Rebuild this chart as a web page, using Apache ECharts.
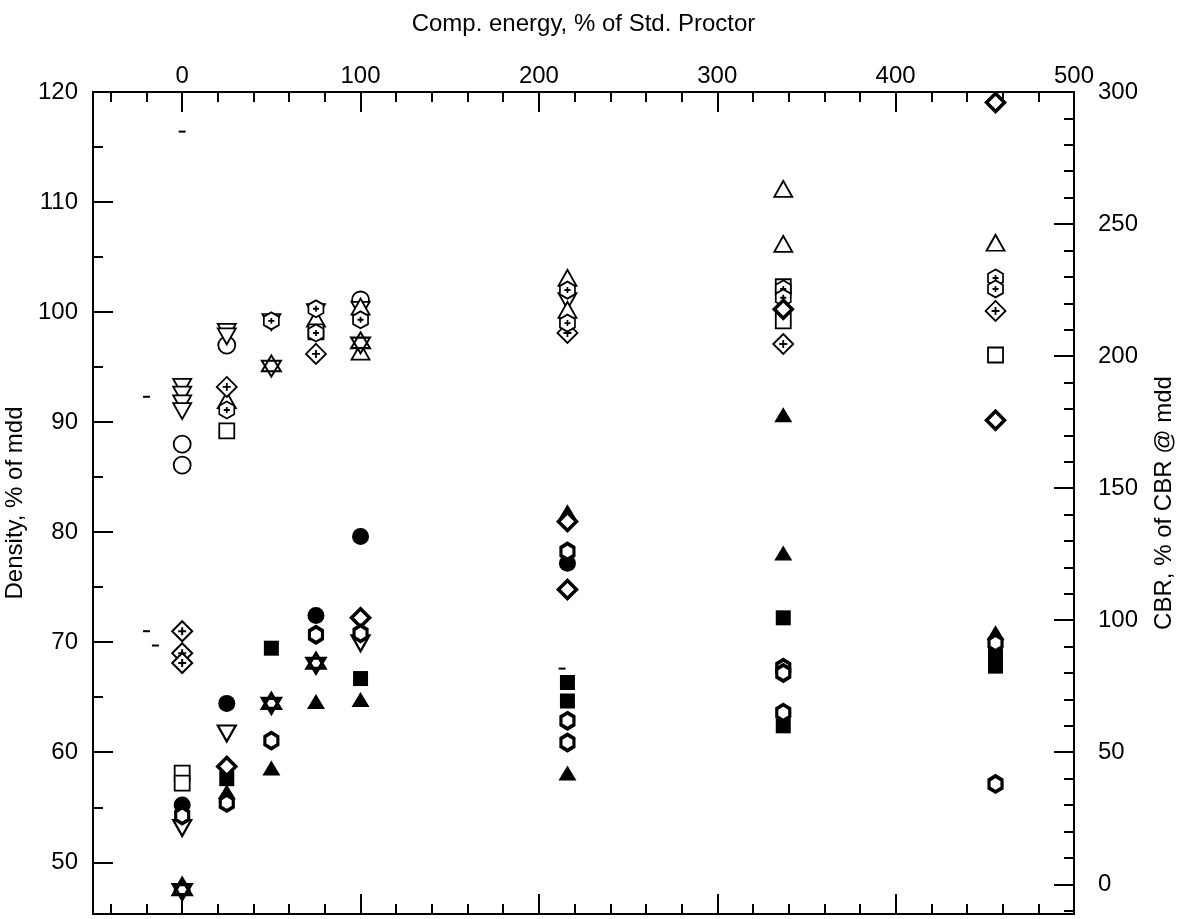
<!DOCTYPE html>
<html><head><meta charset="utf-8">
<script src="https://cdn.jsdelivr.net/npm/echarts@6/dist/echarts.min.js"></script>
<style>html,body{margin:0;padding:0;background:#fff}#c{width:1185px;height:919px}</style>
</head><body><div id="c"></div>
<script>
// ---- data (x = compaction energy, % of Std. Proctor) ----
// Density, % of mdd (left axis)
const densOpenCircle = [[0,88.0],[0,86.1],[25,97.0],[100,101.1]];
const densInvTri = [[0,93.2],[0,92.5],[0,91.7],[0,91.0],[25,98.2],[25,97.8],[50,99.1],[75,100.0],[100,100.2],[216,101.0]];
const densUpTri = [[25,92.0],[75,99.4],[100,100.5],[100,96.4],[216,103.1],[216,100.2],[337,111.2],[337,106.2],[456,106.3]];
const densSquare = [[25,89.2],[75,98.2],[337,102.3],[337,99.2],[456,96.1]];
const densDiamondPlus = [[25,93.2],[75,96.2],[216,98.1],[337,97.1],[456,100.1]];
const densHexPlus = [[25,91.1],[50,99.2],[75,100.3],[75,98.1],[100,99.3],[216,102.0],[216,99.0],[337,102.1],[337,101.3],[456,103.1],[456,102.1]];
const densHexagram = [[50,95.1],[100,97.2]];
// CBR, % of CBR @ mdd (right axis)
const cbrFilledCircle = [[0,30.0],[25,68.5],[75,101.8],[100,131.7],[216,121.6]];
const cbrFilledSquare = [[25,40.0],[50,89.4],[100,77.9],[216,76.4],[216,69.4],[337,100.9],[337,60.0],[456,86.4],[456,82.6]];
const cbrFilledTri = [[0,0.5],[25,35.0],[50,44.0],[75,69.2],[100,70.0],[216,141.1],[216,42.1],[337,177.8],[337,125.4],[456,95.2]];
const cbrBoldDiamond = [[25,44.6],[100,100.9],[216,137.4],[216,111.6],[337,217.7],[456,296.0],[456,175.7]];
const cbrBoldHex = [[0,26.0],[25,30.8],[50,54.4],[75,94.5],[100,95.0],[216,126.0],[216,61.9],[216,53.7],[337,82.0],[337,80.0],[337,65.0],[456,91.4],[456,38.0]];
const cbrHexagram = [[0,-2.0],[50,68.5],[75,83.7]];
const cbrDiamondPlus = [[0,95.8],[0,87.5],[0,83.8]];
const cbrOpenSquare = [[0,42.1],[0,38.3]];
const cbrInvTri = [[0,21.3],[25,57.1],[100,91.3]];
// stray scan marks (density scale)
const strayMarks = [[0,116.4],[-20,92.3],[-20,71.0],[-15,69.7],[213,67.6]];

// axis ranges and titles
const X_MIN = -50, X_MAX = 500;
const D_MIN = 45.3, D_MAX = 120;
const C_MIN = -11.25, C_MAX = 300;
const X_TITLE = 'Comp. energy, % of Std. Proctor';
const YL_TITLE = 'Density, % of mdd';
const YR_TITLE = 'CBR, % of CBR @ mdd';

const FONT = '"Liberation Sans", Arial, sans-serif';
const TXT = {color:'#000', fontFamily:FONT, fontSize:24};

const DIAMOND_PLUS = 'path://M10,0L20,10L10,20L0,10Z M10,6L10,14 M6,10L14,10';
const HEX_PLUS = 'path://M10,0L18.66,5L18.66,15L10,20L1.34,15L1.34,5Z M10,6.5L10,13.5 M6.5,10L13.5,10';
const HEX = 'path://M10,0L18.66,5L18.66,15L10,20L1.34,15L1.34,5Z';
const HEXAGRAM = 'path://M10,0L20,17.32L0,17.32Z M0,5.77L20,5.77L10,23.09Z';
const INV_TRI = 'path://M0,0L20,0L10,17Z';

function mk(data, yAxisIndex, symbol, size, fill, bw, z) {
  return {type:'scatter', data, xAxisIndex:0, yAxisIndex, symbol, symbolSize:size,
    itemStyle:{color:fill, borderColor:'#000', borderWidth:bw, opacity:1},
    emphasis:{disabled:true}, silent:true, z: z||2};
}

function majorAxisX(pos, showLabel) {
  return {type:'value', position:pos, min:X_MIN, max:X_MAX, splitNumber:5, offset:0,
    axisLine:{show:true, onZero:false, lineStyle:{color:'#000', width:2}},
    axisTick:{show:true, inside:true, length:20, lineStyle:{color:'#000', width:2}},
    axisLabel:{show:showLabel, margin:4, ...TXT, formatter:v => v < 0 ? '' : String(v)},
    splitLine:{show:false}};
}
function minorAxisX(pos) {
  return {type:'value', position:pos, min:X_MIN, max:X_MAX, splitNumber:28, offset:0,
    axisLine:{show:false, onZero:false},
    axisTick:{show:true, inside:true, length:10, lineStyle:{color:'#000', width:2}},
    axisLabel:{show:false}, splitLine:{show:false}};
}

const option = {
  animation:false,
  backgroundColor:'#fff',
  grid:{left:93, right:111, top:92, height:822, containLabel:false, outerBoundsMode:'none'},
  xAxis:[
    Object.assign(majorAxisX('top', true), {name:X_TITLE, nameLocation:'middle', nameGap:56, nameTextStyle:TXT}),
    minorAxisX('top'),
    majorAxisX('bottom', false),
    minorAxisX('bottom')
  ],
  yAxis:[
    {type:'value', position:'left', min:D_MIN, max:D_MAX, splitNumber:7, offset:0,
     name:YL_TITLE, nameLocation:'middle', nameGap:60, nameRotate:90, nameTextStyle:TXT,
     axisLine:{show:true, onZero:false, lineStyle:{color:'#000', width:2}},
     axisTick:{show:true, inside:true, length:20, lineStyle:{color:'#000', width:2}},
     axisLabel:{margin:15, ...TXT, formatter:v => v < 50 ? '' : String(v)},
     splitLine:{show:false}},
    {type:'value', position:'left', min:D_MIN, max:D_MAX, splitNumber:15, offset:0,
     axisLine:{show:false, onZero:false},
     axisTick:{show:true, inside:true, length:10, lineStyle:{color:'#000', width:2}},
     axisLabel:{show:false}, splitLine:{show:false}},
    {type:'value', position:'right', min:C_MIN, max:C_MAX, splitNumber:6, offset:0,
     name:YR_TITLE, nameLocation:'middle', nameGap:78, nameRotate:90, nameTextStyle:TXT,
     axisLine:{show:true, onZero:false, lineStyle:{color:'#000', width:2}},
     axisTick:{show:true, inside:true, length:20, lineStyle:{color:'#000', width:2}},
     axisLabel:{margin:24, ...TXT, formatter:v => v < 0 ? '' : String(v)},
     splitLine:{show:false}},
    {type:'value', position:'right', min:C_MIN, max:C_MAX, splitNumber:31, offset:0,
     axisLine:{show:false, onZero:false},
     axisTick:{show:true, inside:true, length:10, lineStyle:{color:'#000', width:2}},
     axisLabel:{show:false}, splitLine:{show:false}}
  ],
  series:[
    mk(densOpenCircle, 0, 'circle', 17, '#fff', 1.8),
    mk(densInvTri, 0, INV_TRI, [18,16], '#fff', 1.8),
    mk(densUpTri, 0, 'triangle', [18,16], '#fff', 1.8),
    mk(densSquare, 0, 'rect', 15, '#fff', 1.8),
    mk(densDiamondPlus, 0, DIAMOND_PLUS, 20, '#fff', 1.8, 3),
    mk(densHexPlus, 0, HEX_PLUS, [15,17], '#fff', 1.8, 3),
    mk(densHexagram, 0, HEXAGRAM, [19,21], '#fff', 2, 3),
    mk(cbrOpenSquare, 2, 'rect', 15, '#fff', 1.8),
    mk(cbrInvTri, 2, INV_TRI, [18,16], '#fff', 2.2),
    mk(cbrDiamondPlus, 2, DIAMOND_PLUS, 20, '#fff', 2, 3),
    mk(cbrFilledCircle, 2, 'circle', 17, '#000', 0),
    mk(cbrFilledSquare, 2, 'rect', 15, '#000', 0),
    mk(cbrFilledTri, 2, 'triangle', [18,15], '#000', 0),
    mk(cbrBoldDiamond, 2, 'diamond', 18, '#fff', 3.5, 3),
    mk(cbrBoldHex, 2, HEX, [13,16], '#fff', 3.5, 3),
    mk(cbrHexagram, 2, HEXAGRAM, [18,20], '#fff', 3, 3),
    mk(strayMarks, 0, 'rect', [7,2], '#000', 0)
  ]
};
echarts.init(document.getElementById('c'), null, {renderer:'canvas'}).setOption(option);
</script></body></html>
